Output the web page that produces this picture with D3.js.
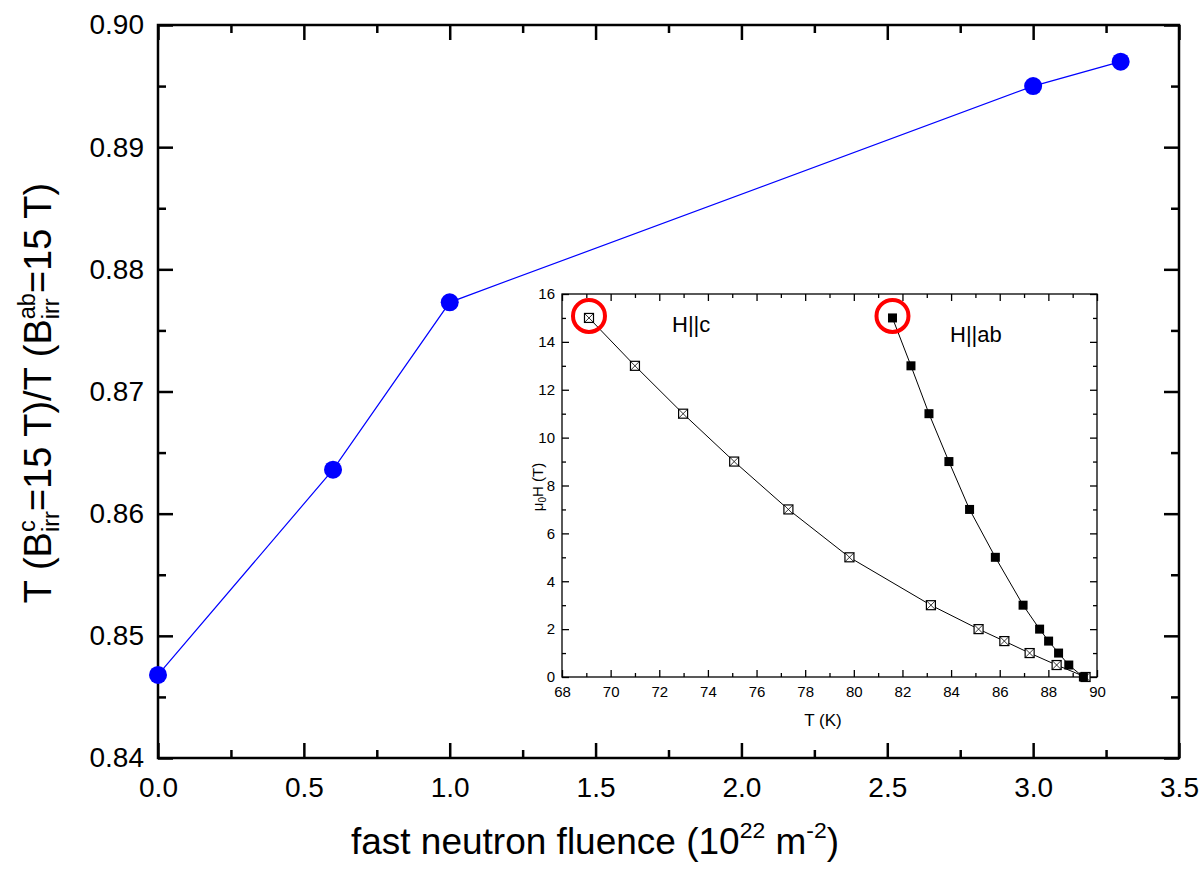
<!DOCTYPE html>
<html>
<head>
<meta charset="utf-8">
<script src="https://d3js.org/d3.v7.min.js"></script>
<style>
  body { margin: 0; background: #fff; }
  text { font-family: "Liberation Sans", Arial, sans-serif; fill: #000; }
</style>
</head>
<body>
<div id="chart"></div>
<script>
"use strict";

// main plot: ratio of irreversibility temperatures vs fluence
var fluence = [0, 0.6, 1.0, 3.0, 3.3];
var ratio = [0.8468, 0.8636, 0.8773, 0.8950, 0.8970];
var xTicks = [0, 0.5, 1.0, 1.5, 2.0, 2.5, 3.0, 3.5];
var yTicks = [0.84, 0.85, 0.86, 0.87, 0.88, 0.89, 0.90];

// inset: irreversibility lines
var tC = [69.11, 71.0, 72.98, 75.08, 77.31, 79.82, 83.17, 85.13, 86.19, 87.23, 88.34, 89.53];
var hC = [15, 13, 11, 9, 7, 5, 3, 2, 1.5, 1, 0.5, 0];
var tAB = [81.59, 82.35, 83.09, 83.91, 84.76, 85.82, 86.96, 87.64, 88.01, 88.42, 88.84, 89.44];
var hAB = [15, 13, 11, 9, 7, 5, 3, 2, 1.5, 1, 0.5, 0];
var insetXTicks = d3.range(68, 91, 2);
var insetYTicks = d3.range(0, 17, 2);

var W = 1203, H = 870;
var svg = d3.select("#chart").append("svg")
  .attr("width", W).attr("height", H);
svg.append("rect").attr("width", W).attr("height", H).attr("fill", "#fff");

// writes text parts with super/subscripts (stacked when both given)
function richText(text, parts, fs) {
  var cur = 0, pendDx = 0;
  parts.forEach(function (p) {
    if (typeof p === "string") {
      text.append("tspan").attr("dx", pendDx).attr("dy", -cur).style("font-size", fs + "px").text(p);
      cur = 0; pendDx = 0;
    } else {
      var sfs = fs * 0.62, w1 = 0, w2 = 0, t1, t2;
      if (p.sup) {
        t1 = text.append("tspan").attr("dx", pendDx).attr("dy", -fs * 0.42 - cur)
          .style("font-size", sfs + "px").text(p.sup);
        cur = -fs * 0.42; pendDx = 0;
        w1 = t1.node().getComputedTextLength();
      }
      if (p.sub) {
        t2 = text.append("tspan").attr("dx", -w1).attr("dy", fs * 0.22 - cur)
          .style("font-size", sfs + "px").text(p.sub);
        cur = fs * 0.22;
        w2 = t2.node().getComputedTextLength();
        pendDx = Math.max(0, w1 - w2);
      }
    }
  });
}

// ---------- main chart ----------
var x = d3.scaleLinear().domain([0, 3.5]).range([158, 1179]);
var y = d3.scaleLinear().domain([0.84, 0.90]).range([758, 25]);

var minorX = d3.range(0.25, 3.5, 0.5);
var minorY = d3.range(0.845, 0.9, 0.01);

function styleAxis(g, w) {
  g.select(".domain").remove();
  g.selectAll(".tick line").attr("stroke", "#000").attr("stroke-width", w);
}

var mainG = svg.append("g");
mainG.append("g").attr("transform", "translate(0,758)")
  .call(d3.axisBottom(x).tickValues(xTicks).tickSize(-15).tickPadding(19).tickFormat(d3.format(".1f")))
  .call(styleAxis, 2.5)
  .selectAll("text").style("font-size", "28px");
mainG.append("g").attr("transform", "translate(0,758)")
  .call(d3.axisBottom(x).tickValues(minorX).tickSize(-8).tickFormat(""))
  .call(styleAxis, 2.5);
mainG.append("g").attr("transform", "translate(0,25)")
  .call(d3.axisTop(x).tickValues(xTicks).tickSize(-15).tickFormat(""))
  .call(styleAxis, 2.5);
mainG.append("g").attr("transform", "translate(0,25)")
  .call(d3.axisTop(x).tickValues(minorX).tickSize(-8).tickFormat(""))
  .call(styleAxis, 2.5);
mainG.append("g").attr("transform", "translate(158,0)")
  .call(d3.axisLeft(y).tickValues(yTicks).tickSize(-15).tickPadding(14).tickFormat(d3.format(".2f")))
  .call(styleAxis, 2.5)
  .selectAll("text").style("font-size", "28px");
mainG.append("g").attr("transform", "translate(158,0)")
  .call(d3.axisLeft(y).tickValues(minorY).tickSize(-8).tickFormat(""))
  .call(styleAxis, 2.5);
mainG.append("g").attr("transform", "translate(1179,0)")
  .call(d3.axisRight(y).tickValues(yTicks).tickSize(-15).tickFormat(""))
  .call(styleAxis, 2.5);
mainG.append("g").attr("transform", "translate(1179,0)")
  .call(d3.axisRight(y).tickValues(minorY).tickSize(-8).tickFormat(""))
  .call(styleAxis, 2.5);
mainG.append("rect").attr("x", 158).attr("y", 25).attr("width", 1021).attr("height", 733)
  .attr("fill", "none").attr("stroke", "#000").attr("stroke-width", 2.5);

var mainPts = fluence.map(function (f, i) { return [f, ratio[i]]; });
mainG.append("path").datum(mainPts)
  .attr("fill", "none").attr("stroke", "#0000ff").attr("stroke-width", 1.2)
  .attr("d", d3.line().x(function (d) { return x(d[0]); }).y(function (d) { return y(d[1]); }));
mainG.selectAll("circle.pt").data(mainPts).enter().append("circle")
  .attr("class", "pt")
  .attr("cx", function (d) { return x(d[0]); })
  .attr("cy", function (d) { return y(d[1]); })
  .attr("r", 9).attr("fill", "#0000ff");

// axis titles
var xt = svg.append("text").attr("x", 595).attr("y", 854).attr("text-anchor", "middle");
richText(xt, ["fast neutron fluence (10", { sup: "22" }, " m", { sup: "-2" }, ")"], 37);

var yt = svg.append("text").attr("transform", "translate(51,393) rotate(-90)").attr("text-anchor", "middle");
richText(yt, ["T (B", { sup: "c", sub: "irr" }, "=15 T)/T (B", { sup: "ab", sub: "irr" }, "=15 T)"], 38);

// ---------- inset ----------
var ix = d3.scaleLinear().domain([68, 90]).range([562, 1097]);
var iy = d3.scaleLinear().domain([0, 16]).range([677, 294]);
var inset = svg.append("g");
inset.append("rect").attr("x", 562).attr("y", 294).attr("width", 535).attr("height", 383).attr("fill", "#fff");

var iMinX = d3.range(69, 90, 2), iMinY = d3.range(1, 16, 2);
inset.append("g").attr("transform", "translate(0,677)")
  .call(d3.axisBottom(ix).tickValues(insetXTicks).tickSize(-7).tickPadding(9))
  .call(styleAxis, 1.3)
  .selectAll("text").style("font-size", "15px");
inset.append("g").attr("transform", "translate(0,677)")
  .call(d3.axisBottom(ix).tickValues(iMinX).tickSize(-4).tickFormat(""))
  .call(styleAxis, 1.3);
inset.append("g").attr("transform", "translate(0,294)")
  .call(d3.axisTop(ix).tickValues(insetXTicks).tickSize(-7).tickFormat(""))
  .call(styleAxis, 1.3);
inset.append("g").attr("transform", "translate(0,294)")
  .call(d3.axisTop(ix).tickValues(iMinX).tickSize(-4).tickFormat(""))
  .call(styleAxis, 1.3);
inset.append("g").attr("transform", "translate(562,0)")
  .call(d3.axisLeft(iy).tickValues(insetYTicks).tickSize(-7).tickPadding(7))
  .call(styleAxis, 1.3)
  .selectAll("text").style("font-size", "15px");
inset.append("g").attr("transform", "translate(562,0)")
  .call(d3.axisLeft(iy).tickValues(iMinY).tickSize(-4).tickFormat(""))
  .call(styleAxis, 1.3);
inset.append("g").attr("transform", "translate(1097,0)")
  .call(d3.axisRight(iy).tickValues(insetYTicks).tickSize(-7).tickFormat(""))
  .call(styleAxis, 1.3);
inset.append("g").attr("transform", "translate(1097,0)")
  .call(d3.axisRight(iy).tickValues(iMinY).tickSize(-4).tickFormat(""))
  .call(styleAxis, 1.3);
inset.append("rect").attr("x", 562).attr("y", 294).attr("width", 535).attr("height", 383)
  .attr("fill", "none").attr("stroke", "#000").attr("stroke-width", 1.3);

var line = d3.line().x(function (d) { return ix(d[0]); }).y(function (d) { return iy(d[1]); });
var ptsC = tC.map(function (t, i) { return [t, hC[i]]; });
var ptsAB = tAB.map(function (t, i) { return [t, hAB[i]]; });
[ptsC, ptsAB].forEach(function (pts) {
  inset.append("path").datum(pts).attr("fill", "none").attr("stroke", "#000")
    .attr("stroke-width", 1).attr("d", line);
});

var s = 4.5;
inset.selectAll("g.sqC").data(ptsC).enter().append("g").attr("class", "sqC")
  .attr("transform", function (d) { return "translate(" + ix(d[0]) + "," + iy(d[1]) + ")"; })
  .each(function () {
    var g = d3.select(this);
    g.append("rect").attr("x", -s).attr("y", -s).attr("width", 2 * s).attr("height", 2 * s)
      .attr("fill", "#fff").attr("stroke", "#000").attr("stroke-width", 1.2);
    g.append("path").attr("d", "M" + -s + "," + -s + "L" + s + "," + s + "M" + s + "," + -s + "L" + -s + "," + s)
      .attr("stroke", "#000").attr("stroke-width", 0.8);
  });
inset.selectAll("rect.sqAB").data(ptsAB).enter().append("rect").attr("class", "sqAB")
  .attr("x", function (d) { return ix(d[0]) - s; })
  .attr("y", function (d) { return iy(d[1]) - s; })
  .attr("width", 2 * s).attr("height", 2 * s).attr("fill", "#000");

// red circles around the 15 T points
inset.selectAll("circle.mark").data([ptsC[0], ptsAB[0]]).enter().append("circle")
  .attr("class", "mark")
  .attr("cx", function (d) { return ix(d[0]); })
  .attr("cy", function (d) { return iy(d[1]) - 2; })
  .attr("r", 16).attr("fill", "none").attr("stroke", "#ff0000").attr("stroke-width", 4);

inset.append("text").attr("x", 672).attr("y", 332).style("font-size", "22px").text("H||c");
inset.append("text").attr("x", 950).attr("y", 342).style("font-size", "22px").text("H||ab");

inset.append("text").attr("x", 823).attr("y", 726).attr("text-anchor", "middle")
  .style("font-size", "17px").text("T (K)");
var iyt = inset.append("text").attr("transform", "translate(543,487) rotate(-90)")
  .attr("text-anchor", "middle");
iyt.append("tspan").style("font-size", "15px").text("\u03bc");
iyt.append("tspan").attr("dy", 3).style("font-size", "10px").text("0");
iyt.append("tspan").attr("dy", -3).style("font-size", "15px").text("H (T)");
</script>
</body>
</html>
